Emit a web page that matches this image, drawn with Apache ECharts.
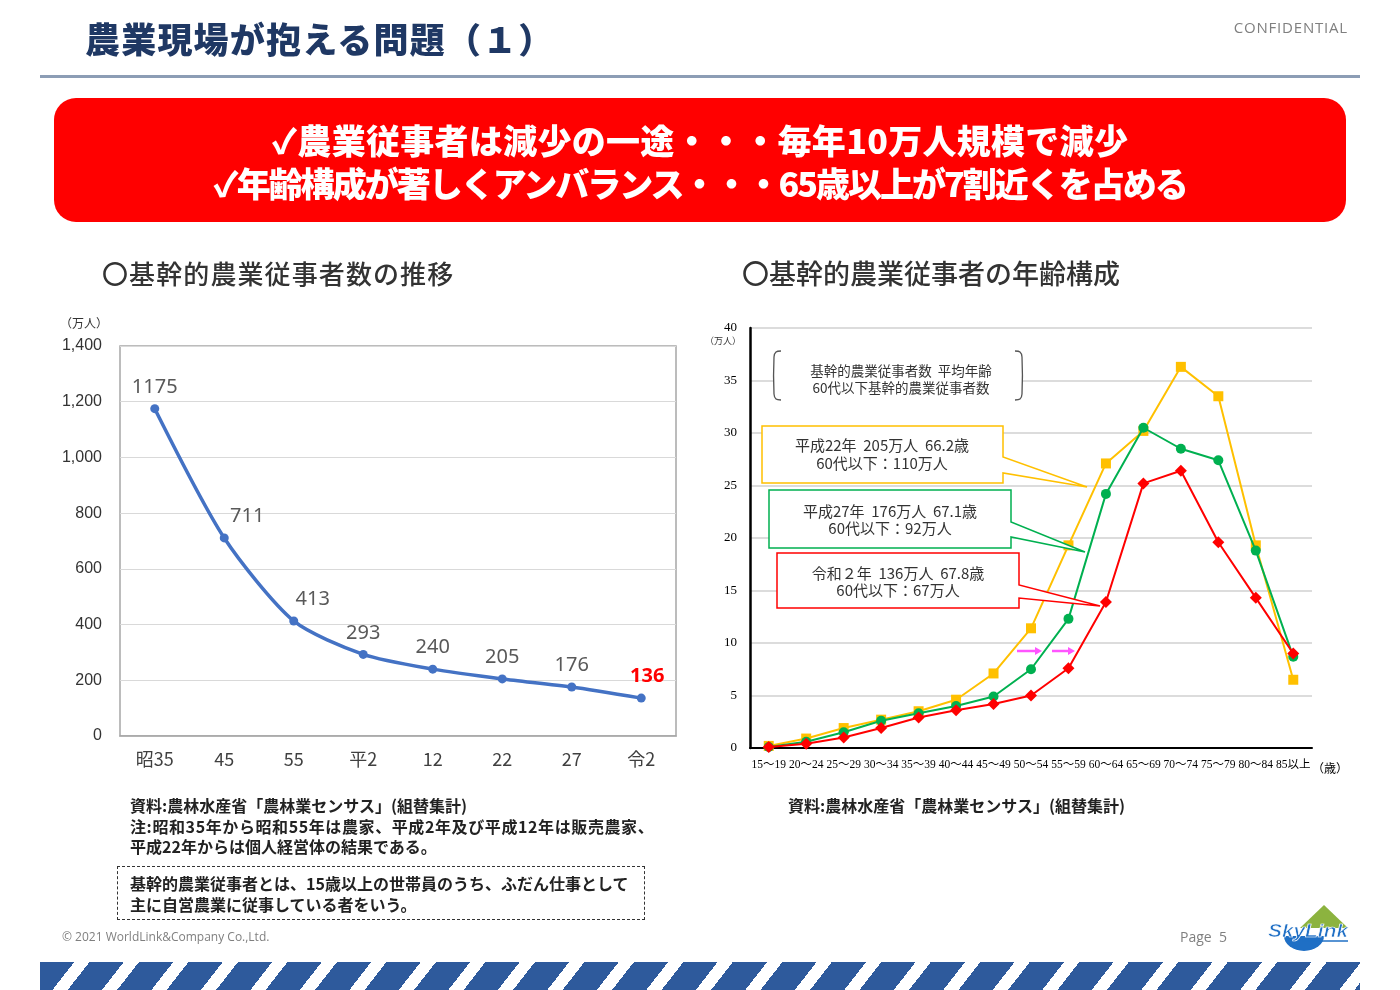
<!DOCTYPE html>
<html><head><meta charset="utf-8">
<script src="https://cdn.jsdelivr.net/npm/echarts/dist/echarts.min.js"></script>
<style>
html,body{margin:0;padding:0;background:#fff;width:1400px;height:990px;overflow:hidden;font-family:"Noto Sans CJK JP","Noto Sans",sans-serif;}
#chart{position:absolute;left:0;top:0;width:1400px;height:990px;}
.abs{position:absolute;white-space:nowrap;}
#title{left:85px;top:14px;font-size:35px;font-weight:900;color:#1f3864;line-height:48px;letter-spacing:1.2px;}
#conf{right:52px;top:17px;font-size:15px;color:#7f7f7f;letter-spacing:0.8px;font-family:"Open Sans","Noto Sans",sans-serif;}
#rule{left:40px;top:75px;width:1320px;height:3px;background:#8c9db5;}
#redbox{left:54px;top:98px;width:1292px;height:124px;border-radius:22px;background:#ff0000;color:#fff;font-weight:900;font-size:34px;text-align:center;line-height:43px;}
#redbox div{position:absolute;left:0;width:100%;}
.sec{font-size:26px;color:#333;font-weight:500;line-height:34px;}
.note{font-size:16px;color:#222;font-weight:600;line-height:20.5px;}
#dash{left:117px;top:866px;width:526px;height:52px;border:1.5px dashed #333;}
#copy{left:62px;top:928px;font-size:12px;color:#7f7f7f;font-family:"Open Sans","Noto Sans",sans-serif;}
#page{left:1180px;top:927px;font-size:14px;color:#7f7f7f;font-family:"Open Sans","Noto Sans",sans-serif;}
#stripes{left:40px;top:962px;width:1320px;height:28px;background:repeating-linear-gradient(128deg,#2e5a9c 0px,#2e5a9c 27px,#ffffff 27px,#ffffff 39px);}
</style></head>
<body>
<div id="chart"></div>
<div class="abs" id="title">農業現場が抱える問題（１）</div>
<div class="abs" id="conf">CONFIDENTIAL</div>
<div class="abs" id="rule"></div>
<div class="abs" id="redbox">
  <div style="top:20px;letter-spacing:0.3px;">✓農業従事者は減少の一途・・・毎年10万人規模で減少</div>
  <div style="top:63px;letter-spacing:-2px;">✓年齢構成が著しくアンバランス・・・65歳以上が7割近くを占める</div>
</div>
<div class="abs sec" style="left:102px;top:256px;letter-spacing:1.1px;">〇基幹的農業従事者数の推移</div>
<div class="abs sec" style="left:742px;top:256px;font-size:27px;">〇基幹的農業従事者の年齢構成</div>
<div class="abs note" style="left:130px;top:795px;">資料:農林水産省「農林業センサス」(組替集計)<br><span style="letter-spacing:0.6px">注:昭和35年から昭和55年は農家、平成2年及び平成12年は販売農家、</span><br>平成22年からは個人経営体の結果である。</div>
<div class="abs" id="dash"></div>
<div class="abs note" style="left:130px;top:873px;">基幹的農業従事者とは、15歳以上の世帯員のうち、ふだん仕事として<br>主に自営農業に従事している者をいう。</div>
<div class="abs note" style="left:788px;top:795px;">資料:農林水産省「農林業センサス」(組替集計)</div>
<div class="abs" id="copy">© 2021 WorldLink&amp;Company Co.,Ltd.</div>
<div class="abs" id="page">Page&nbsp;&nbsp;5</div>
<svg class="abs" style="left:1262px;top:900px;" width="92" height="56" viewBox="0 0 92 56">
  <polygon points="62,5 86,28 38,28" fill="#8cb33f"/>
  <path d="M22,36 A20,15 0 0 0 62,36 Z" fill="#1f6fc5"/>
  <text x="46" y="37" text-anchor="middle" font-family="Liberation Sans, Arial" font-size="19" font-weight="bold" font-style="italic" fill="#1f6fc5" stroke="#fff" stroke-width="0.7" textLength="80" lengthAdjust="spacingAndGlyphs">SkyLink</text>
  <line x1="40" y1="41" x2="86" y2="41" stroke="#1f6fc5" stroke-width="1.5"/>
</svg>
<div class="abs" id="stripes"></div>
<script>
// ---- data ----
const years = ['昭35', '45', '55', '平2', '12', '22', '27', '令2'];
const farmers = [1175, 711, 413, 293, 240, 205, 176, 136];
const ageGroups = ['15～19', '20～24', '25～29', '30～34', '35～39', '40～44', '45～49', '50～54', '55～59', '60～64', '65～69', '70～74', '75～79', '80～84', '85以上'];
const h22 = [0.2, 0.9, 1.9, 2.7, 3.5, 4.6, 7.1, 11.4, 19.3, 27.1, 30.2, 36.3, 33.5, 19.3, 6.5];
const h27 = [0.1, 0.6, 1.5, 2.6, 3.3, 4.0, 4.9, 7.5, 12.3, 24.2, 30.5, 28.5, 27.4, 18.8, 8.7];
const r2 = [0.1, 0.4, 1.0, 1.9, 2.9, 3.6, 4.2, 5.0, 7.6, 13.9, 25.2, 26.4, 19.6, 14.3, 9.0];

const chart = echarts.init(document.getElementById('chart'));

const labelFont = '"Noto Sans","Open Sans",sans-serif';
const leftData = farmers.map((v, i) => {
  const d = { value: v };
  if (i === 1) d.label = { offset: [23, 0] };
  if (i === 2) d.label = { offset: [19, 0] };
  if (i === farmers.length - 1) d.label = { offset: [6, 0], color: '#ff0000', fontWeight: 'bold' };
  return d;
});

function callout(color, x1, y1, x2, y2, a1, a2, tip) {
  return {
    type: 'polygon', z: 50,
    shape: { points: [[x1, y1], [x2, y1], [x2, a1], tip, [x2, a2], [x2, y2], [x1, y2]] },
    style: { fill: '#fff', stroke: color, lineWidth: 1.5 }
  };
}
function ctext(x, y, txt, size) {
  return { type: 'text', z: 60, x: x, y: y, style: { text: txt, fill: '#333', font: (size || 15) + 'px "Noto Sans CJK JP"', textAlign: 'center', textVerticalAlign: 'middle' } };
}
function arrow(x1, x2, y) {
  return [
    { type: 'line', z: 55, shape: { x1: x1, y1: y, x2: x2 - 6, y2: y }, style: { stroke: '#ff55ff', lineWidth: 2.5 } },
    { type: 'polygon', z: 55, shape: { points: [[x2 - 7, y - 4], [x2, y], [x2 - 7, y + 4]] }, style: { fill: '#ff55ff' } }
  ];
}
function bracket(pts) {
  return { type: 'polyline', z: 45, shape: { points: pts, smooth: 0.3 }, style: { stroke: '#555', lineWidth: 1.3, fill: null } };
}

const option = {
  animation: false,
  grid: [
    { left: 120, right: 724, top: 346, bottom: 254, show: true, borderColor: '#a6a6a6', borderWidth: 1.5 },
    { left: 750, right: 88, top: 328, bottom: 242 }
  ],
  xAxis: [
    { type: 'category', gridIndex: 0, data: years, boundaryGap: true,
      axisLine: { lineStyle: { color: '#a6a6a6', width: 1.5 } },
      axisTick: { alignWithLabel: true, length: 5, lineStyle: { color: '#a6a6a6' } },
      axisLabel: { fontSize: 18, color: '#404040', margin: 14, fontFamily: '"Noto Sans CJK JP"' } },
    { type: 'category', gridIndex: 1, data: ageGroups, boundaryGap: true,
      axisLine: { lineStyle: { color: '#000', width: 2 } },
      axisTick: { show: false },
      axisLabel: { interval: 0, fontSize: 11.5, color: '#000', margin: 11, fontFamily: '"Liberation Serif","Noto Sans CJK JP"' } }
  ],
  yAxis: [
    { type: 'value', gridIndex: 0, min: 0, max: 1400, interval: 200,
      axisLine: { show: false }, axisTick: { show: false },
      splitLine: { lineStyle: { color: '#d9d9d9', width: 1.2 } },
      axisLabel: { fontSize: 16, color: '#333', margin: 18, fontFamily: '"Liberation Sans",sans-serif',
        formatter: v => v.toLocaleString('en-US') } },
    { type: 'value', gridIndex: 1, min: 0, max: 40, interval: 5,
      axisLine: { show: true, lineStyle: { color: '#000', width: 2.5 } }, axisTick: { show: false },
      splitLine: { lineStyle: { color: '#d0d0d0', width: 1.5 } },
      axisLabel: { fontSize: 13, color: '#000', margin: 13, fontFamily: '"Liberation Serif",serif' } }
  ],
  series: [
    { name: '基幹的農業従事者数', type: 'line', xAxisIndex: 0, yAxisIndex: 0, data: leftData, smooth: 0.25,
      lineStyle: { color: '#4472c4', width: 3.5 }, itemStyle: { color: '#4472c4' },
      symbol: 'circle', symbolSize: 9,
      label: { show: true, position: 'top', distance: 7, fontSize: 20, color: '#595959', fontFamily: labelFont } },
    { name: '平成22年', type: 'line', xAxisIndex: 1, yAxisIndex: 1, data: h22, z: 3,
      lineStyle: { color: '#ffc000', width: 2 }, itemStyle: { color: '#ffc000' }, symbol: 'rect', symbolSize: 10 },
    { name: '平成27年', type: 'line', xAxisIndex: 1, yAxisIndex: 1, data: h27, z: 4,
      lineStyle: { color: '#00b050', width: 2 }, itemStyle: { color: '#00b050' }, symbol: 'circle', symbolSize: 10 },
    { name: '令和2年', type: 'line', xAxisIndex: 1, yAxisIndex: 1, data: r2, z: 5,
      lineStyle: { color: '#ff0000', width: 2 }, itemStyle: { color: '#ff0000' }, symbol: 'diamond', symbolSize: 12 }
  ],
  graphic: [
    { type: 'text', x: 84, y: 323, style: { text: '（万人）', fill: '#333', font: '12px "Noto Sans CJK JP"', textAlign: 'center', textVerticalAlign: 'middle' } },
    { type: 'text', x: 723, y: 341, style: { text: '（万人）', fill: '#333', font: '9px "Noto Sans CJK JP"', textAlign: 'center', textVerticalAlign: 'middle' } },
    { type: 'text', x: 1330, y: 768, style: { text: '（歳）', fill: '#000', font: '12px "Noto Sans CJK JP"', textAlign: 'center', textVerticalAlign: 'middle' } },
    { type: 'rect', z: 40, shape: { x: 774, y: 351, width: 248, height: 49 }, style: { fill: '#fff' } },
    bracket([[781, 351], [776, 352], [774, 357], [774, 394], [776, 399], [781, 400]]),
    bracket([[1015, 351], [1020, 352], [1022, 357], [1022, 394], [1020, 399], [1015, 400]]),
    ctext(901, 371, '基幹的農業従事者数  平均年齢', 13.5),
    ctext(901, 388, '60代以下基幹的農業従事者数', 13.5),
    callout('#ffc000', 762, 426, 1003, 483, 457, 473, [1087, 487]),
    ctext(882, 445, '平成22年  205万人  66.2歳'),
    ctext(882, 463, '60代以下：110万人'),
    callout('#00b050', 769, 490, 1011, 548, 522, 537, [1085, 552]),
    ctext(890, 511, '平成27年  176万人  67.1歳'),
    ctext(890, 528, '60代以下：92万人'),
    callout('#ff0000', 777, 553, 1019, 608, 585, 598, [1100, 606]),
    ctext(898, 573, '令和２年  136万人  67.8歳'),
    ctext(898, 590, '60代以下：67万人'),
    ...arrow(1017, 1042, 651),
    ...arrow(1052, 1075, 651)
  ]
};
chart.setOption(option);
</script>
</body></html>
